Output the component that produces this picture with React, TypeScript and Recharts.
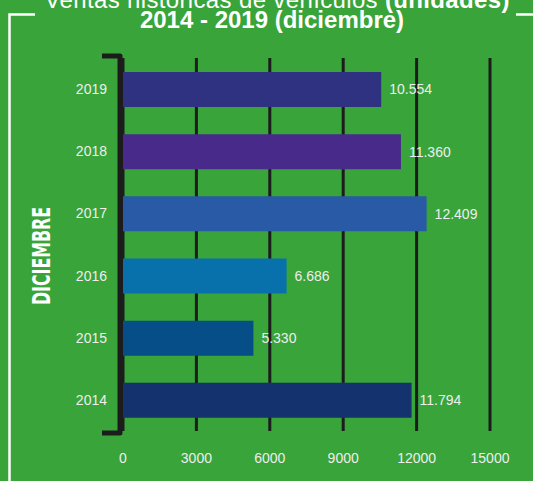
import React from 'react';
import * as R from 'recharts';
import { BarChart, Bar, XAxis, YAxis, CartesianGrid, LabelList, Cell } from 'recharts';

const years = ['2019', '2018', '2017', '2016', '2015', '2014'];
const units = [10554, 11360, 12409, 6686, 5330, 11794];
const barColors = ['#2e3280', '#482a8a', '#285aa5', '#0870aa', '#054e87', '#14326e'];
const xTicks = [0, 3000, 6000, 9000, 12000, 15000];

const titleLine1 = 'Ventas históricas de vehículos ';
const titleLine1Bold = '(unidades)';
const titleLine2 = '2014 - 2019 (diciembre)';
const sideLabel = 'DICIEMBRE';

const data = years.map((y, i) => ({ year: y, units: units[i] }));

const fmt = (v: number) => String(v).replace(/\B(?=(\d{3})+(?!\d))/g, '.');

const FONT = '"Liberation Sans", Arial, Helvetica, sans-serif';
const TXT = '#eeeeee';

function Bracket() {
  const anyR = R as any;
  let area: any = null;
  if (anyR.usePlotArea) {
    area = anyR.usePlotArea();
  }
  if (!area) return null;
  const x = area.x - 3;
  const top = area.y - 2;
  const bottom = area.y + area.height + 2;
  return (
    <path
      d={`M ${x - 18} ${top} H ${x} V ${bottom} H ${x - 18}`}
      fill="none"
      stroke="#1c1c1c"
      strokeWidth={5}
      strokeLinejoin="round"
    />
  );
}

export default function App() {
  return (
    <div
      style={{
        position: 'absolute',
        left: 0,
        top: 0,
        width: 533,
        height: 481,
        background: '#38a43a',
        overflow: 'hidden',
      }}
    >
      <BarChart
        width={533}
        height={481}
        data={data}
        layout="vertical"
        margin={{ top: 58, right: 43, bottom: 20, left: 13 }}
        barCategoryGap={13}
      >
        <CartesianGrid horizontal={false} vertical={true} stroke="#1c1c1c" strokeWidth={3} />
        <XAxis
          type="number"
          dataKey="units"
          domain={[0, 15000]}
          ticks={xTicks}
          interval={0}
          axisLine={false}
          tickLine={false}
          tickMargin={16}
          height={30}
          tick={{ fill: TXT, fontSize: 14, fontFamily: FONT }}
        />
        <YAxis
          type="category"
          dataKey="year"
          width={110}
          axisLine={false}
          tickLine={false}
          tickMargin={10}
          tick={{ fill: TXT, fontSize: 14, fontFamily: FONT }}
        />
        <Bar dataKey="units" barSize={35} isAnimationActive={false}>
          {data.map((d, i) => (
            <Cell key={d.year} fill={barColors[i]} />
          ))}
          <LabelList
            dataKey="units"
            position="right"
            offset={8}
            formatter={(v: any) => fmt(Number(v))}
            style={{ fill: TXT, fontSize: 14, fontFamily: FONT }}
          />
        </Bar>
        <Bracket />
      </BarChart>
      <svg
        width={533}
        height={481}
        style={{ position: 'absolute', left: 0, top: 0, pointerEvents: 'none' }}
      >
        <path d="M 9.5 481 V 14.5 H 35" fill="none" stroke="#ffffff" strokeWidth={2.5} />
        <path d="M 516 14.5 H 533" fill="none" stroke="#ffffff" strokeWidth={2.5} />
        <text
          x={277}
          y={8}
          textAnchor="middle"
          fill="#ffffff"
          fontSize={24}
          fontFamily={FONT}
          textLength={465}
          lengthAdjust="spacing"
        >
          {titleLine1}
          <tspan fontWeight="bold">{titleLine1Bold}</tspan>
        </text>
        <text
          x={272}
          y={28}
          textAnchor="middle"
          fill="#ffffff"
          fontSize={24}
          fontWeight="bold"
          fontFamily={FONT}
        >
          {titleLine2}
        </text>
        <text
          x={0}
          y={0}
          transform="translate(50 256) rotate(-90)"
          textAnchor="middle"
          fill="#ffffff"
          fontSize={24}
          fontWeight="bold"
          fontFamily={'"Liberation Sans Narrow", "DejaVu Sans Condensed", Arial, sans-serif'}
          textLength={98}
          lengthAdjust="spacingAndGlyphs"
        >
          {sideLabel}
        </text>
      </svg>
    </div>
  );
}
